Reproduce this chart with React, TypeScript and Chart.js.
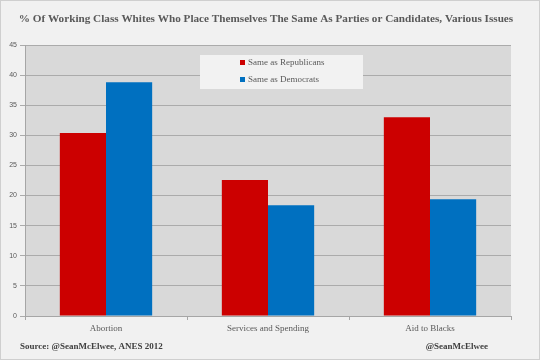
import React, { useEffect, useRef } from "react";
import { Chart, registerables } from "chart.js";

Chart.register(...registerables);

const categories = ["Abortion", "Services and Spending", "Aid to Blacks"];
const republicans = [30.4, 22.6, 33.0];
const democrats = [38.8, 18.4, 19.4];
const seriesNames = ["Same as Republicans", "Same as Democrats"];
const titleText = "% Of Working Class Whites Who Place Themselves The Same As Parties or Candidates, Various Issues";
const sourceText = "Source: @SeanMcElwee, ANES 2012";
const handleText = "@SeanMcElwee";

const RED = "#cc0000";
const BLUE = "#0070c0";
const SERIF = "'Liberation Serif', 'DejaVu Serif', serif";

const decorPlugin = {
  id: "decor",
  beforeDraw(chart: any) {
    const { ctx, chartArea, width, height } = chart;
    ctx.save();
    ctx.fillStyle = "#f1f1f1";
    ctx.fillRect(0, 0, width, height);
    ctx.strokeStyle = "#cfcfcf";
    ctx.lineWidth = 1;
    ctx.strokeRect(0.5, 0.5, width - 1, height - 1);
    ctx.fillStyle = "#d9d9d9";
    ctx.fillRect(chartArea.left, chartArea.top, chartArea.right - chartArea.left, chartArea.bottom - chartArea.top);
    ctx.restore();
  },
  afterDraw(chart: any) {
    const { ctx } = chart;
    ctx.save();
    ctx.fillStyle = "#595959";
    ctx.font = `bold 11.2px ${SERIF}`;
    ctx.textAlign = "center";
    ctx.textBaseline = "middle";
    ctx.fillText(titleText, 266, 19);

    // legend box
    ctx.fillStyle = "#f2f2f2";
    ctx.fillRect(200, 55, 163, 34);
    ctx.font = `9px ${SERIF}`;
    ctx.textAlign = "left";
    ctx.fillStyle = RED;
    ctx.fillRect(240, 60, 5, 5);
    ctx.fillStyle = BLUE;
    ctx.fillRect(240, 77, 5, 5);
    ctx.fillStyle = "#595959";
    ctx.fillText(seriesNames[0], 248, 63);
    ctx.fillText(seriesNames[1], 248, 80);

    // footer
    ctx.font = `bold 9px ${SERIF}`;
    ctx.fillStyle = "#404040";
    ctx.textAlign = "left";
    ctx.fillText(sourceText, 20, 347);
    ctx.textAlign = "right";
    ctx.fillText(handleText, 488, 347);
    ctx.restore();
  },
};

export default function App() {
  const ref = useRef<HTMLCanvasElement>(null);
  useEffect(() => {
    if (!ref.current) return;
    const chart = new Chart(ref.current, {
      type: "bar",
      data: {
        labels: categories,
        datasets: [
          { label: seriesNames[0], data: republicans, backgroundColor: RED, categoryPercentage: 0.57, barPercentage: 1 },
          { label: seriesNames[1], data: democrats, backgroundColor: BLUE, categoryPercentage: 0.57, barPercentage: 1 },
        ],
      },
      options: {
        animation: false,
        responsive: false,
        layout: { padding: { left: 0, right: 29, top: 45, bottom: 20 } },
        plugins: { legend: { display: false }, title: { display: false }, tooltip: { enabled: false } },
        scales: {
          x: {
            grid: { display: true, drawOnChartArea: false, drawTicks: true, tickLength: 4, offset: true, color: "#a6a6a6" },
            border: { color: "#a6a6a6" },
            ticks: { color: "#595959", font: { family: SERIF, size: 9 }, padding: 3 },
            afterFit: (s: any) => { s.height = 24; },
          },
          y: {
            min: 0,
            max: 45,
            ticks: { stepSize: 5, color: "#595959", font: { family: "'Liberation Sans', sans-serif", size: 7 }, padding: 3 },
            grid: { color: "#ababab", tickLength: 5 },
            border: { color: "#a6a6a6" },
            afterFit: (s: any) => { s.width = 25; },
          },
        },
      },
      plugins: [decorPlugin],
    });
    return () => chart.destroy();
  }, []);
  return (
    <div style={{ position: "fixed", left: 0, top: 0, width: 540, height: 360 }}>
      <canvas ref={ref} width={540} height={360} style={{ width: 540, height: 360, display: "block" }} />
    </div>
  );
}
